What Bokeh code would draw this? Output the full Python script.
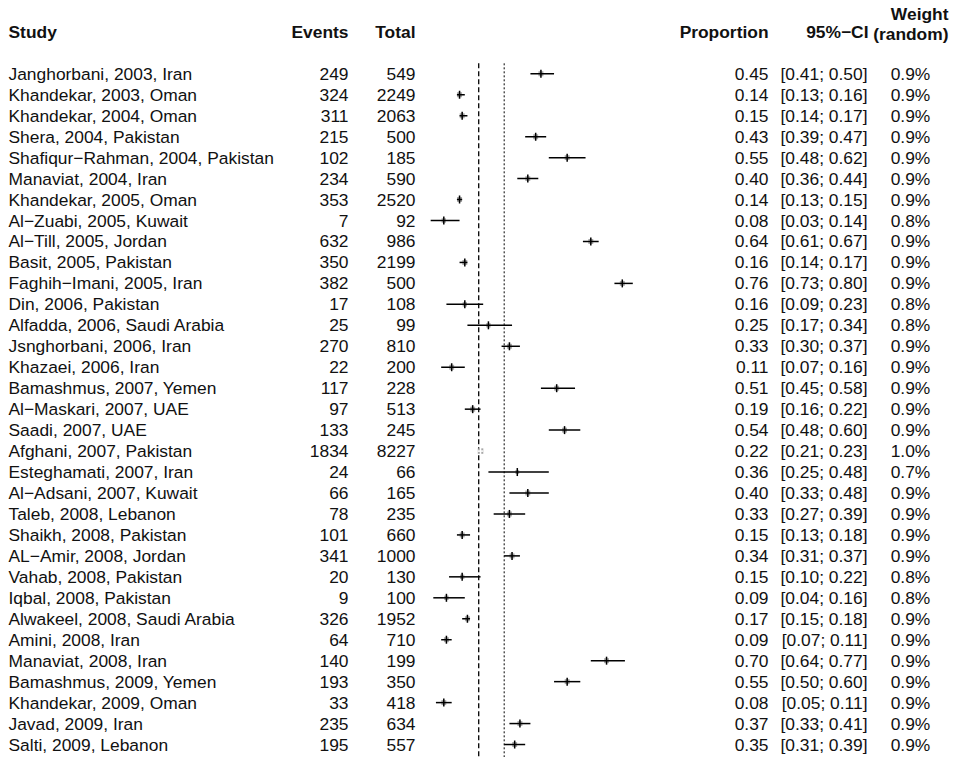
from bokeh.plotting import figure
from bokeh.models import Range1d, ColumnDataSource
from bokeh.embed import file_html
from bokeh.resources import INLINE
from bokeh.core.properties import value

studies = [
    "Janghorbani, 2003, Iran", "Khandekar, 2003, Oman", "Khandekar, 2004, Oman",
    "Shera, 2004, Pakistan", "Shafiqur\u2212Rahman, 2004, Pakistan", "Manaviat, 2004, Iran",
    "Khandekar, 2005, Oman", "Al\u2212Zuabi, 2005, Kuwait", "Al\u2212Till, 2005, Jordan",
    "Basit, 2005, Pakistan", "Faghih\u2212Imani, 2005, Iran", "Din, 2006, Pakistan",
    "Alfadda, 2006, Saudi Arabia", "Jsnghorbani, 2006, Iran", "Khazaei, 2006, Iran",
    "Bamashmus, 2007, Yemen", "Al\u2212Maskari, 2007, UAE", "Saadi, 2007, UAE",
    "Afghani, 2007, Pakistan", "Esteghamati, 2007, Iran", "Al\u2212Adsani, 2007, Kuwait",
    "Taleb, 2008, Lebanon", "Shaikh, 2008, Pakistan", "AL\u2212Amir, 2008, Jordan",
    "Vahab, 2008, Pakistan", "Iqbal, 2008, Pakistan", "Alwakeel, 2008, Saudi Arabia",
    "Amini, 2008, Iran", "Manaviat, 2008, Iran", "Bamashmus, 2009, Yemen",
    "Khandekar, 2009, Oman", "Javad, 2009, Iran", "Salti, 2009, Lebanon",
]
events = [249, 324, 311, 215, 102, 234, 353, 7, 632, 350, 382, 17, 25, 270, 22, 117, 97,
          133, 1834, 24, 66, 78, 101, 341, 20, 9, 326, 64, 140, 193, 33, 235, 195]
totals = [549, 2249, 2063, 500, 185, 590, 2520, 92, 986, 2199, 500, 108, 99, 810, 200, 228,
          513, 245, 8227, 66, 165, 235, 660, 1000, 130, 100, 1952, 710, 199, 350, 418, 634, 557]
proportion = [0.45, 0.14, 0.15, 0.43, 0.55, 0.40, 0.14, 0.08, 0.64, 0.16, 0.76, 0.16, 0.25,
              0.33, 0.11, 0.51, 0.19, 0.54, 0.22, 0.36, 0.40, 0.33, 0.15, 0.34, 0.15, 0.09,
              0.17, 0.09, 0.70, 0.55, 0.08, 0.37, 0.35]
ci_lower = [0.41, 0.13, 0.14, 0.39, 0.48, 0.36, 0.13, 0.03, 0.61, 0.14, 0.73, 0.09, 0.17,
            0.30, 0.07, 0.45, 0.16, 0.48, 0.21, 0.25, 0.33, 0.27, 0.13, 0.31, 0.10, 0.04,
            0.15, 0.07, 0.64, 0.50, 0.05, 0.33, 0.31]
ci_upper = [0.50, 0.16, 0.17, 0.47, 0.62, 0.44, 0.15, 0.14, 0.67, 0.17, 0.80, 0.23, 0.34,
            0.37, 0.16, 0.58, 0.22, 0.60, 0.23, 0.48, 0.48, 0.39, 0.18, 0.37, 0.22, 0.16,
            0.18, 0.11, 0.77, 0.60, 0.11, 0.41, 0.39]
weight_random = [0.9, 0.9, 0.9, 0.9, 0.9, 0.9, 0.9, 0.8, 0.9, 0.9, 0.9, 0.8, 0.8, 0.9, 0.9,
                 0.9, 0.9, 0.9, 1.0, 0.7, 0.9, 0.9, 0.9, 0.9, 0.8, 0.8, 0.9, 0.9, 0.9, 0.9,
                 0.9, 0.9, 0.9]
fixed_estimate = 0.213
random_estimate = 0.31

headers = ["Study", "Events", "Total", "Proportion", "95%\u2212CI"]

# ---- layout (pixels) ----
W, H = 959, 757
ROW_PX = 20.96
FIRST_ROW_PX = 73.3
PX_PER_UNIT = 262.5
ZERO_PX = 422.3
FONT = value("Liberation Sans")
FS = "17.4px"

x_start = -ZERO_PX / PX_PER_UNIT
x_end = (W - ZERO_PX) / PX_PER_UNIT
y_top = 1 - FIRST_ROW_PX / ROW_PX
y_bottom = 1 + (H - FIRST_ROW_PX) / ROW_PX

p = figure(width=W, height=H, x_range=Range1d(x_start, x_end),
           y_range=Range1d(y_bottom, y_top), output_backend="svg",
           toolbar_location=None, min_border=0, x_axis_location=None,
           y_axis_location=None, background_fill_color="white",
           border_fill_color="white")
p.grid.visible = False
p.outline_line_color = None
p.extra_x_ranges = {"px": Range1d(0, W)}

n = len(studies)
rows = list(range(1, n + 1))
sq_px = [w * 5.5 for w in weight_random]
inside = [(hi - lo) * PX_PER_UNIT < s for lo, hi, s in zip(ci_lower, ci_upper, sq_px)]
src = ColumnDataSource(dict(
    y=rows, study=studies,
    ev=[str(e) for e in events], tot=[str(t) for t in totals],
    prop=proportion, lo=ci_lower, hi=ci_upper, sq=sq_px,
    prop_s=[f"{v:.2f}" for v in proportion],
    ci_s=[f"[{a:.2f}; {b:.2f}]" for a, b in zip(ci_lower, ci_upper)],
    w_s=[f"{w:.1f}%" for w in weight_random],
    lc=["white" if f else "black" for f in inside],
))

# reference lines
p.segment(x0=[fixed_estimate], x1=[fixed_estimate], y0=[0.5], y1=[y_bottom + 1],
          line_color="black", line_width=1.3, line_dash="5 3")
p.segment(x0=[random_estimate], x1=[random_estimate], y0=[0.5], y1=[y_bottom + 1],
          line_color="black", line_width=1.0, line_dash="2 2")

# study markers
p.scatter(x="prop", y="y", size="sq", marker="square", source=src,
          fill_color="#a8a8a8", line_color=None)
p.segment(x0="lo", x1="hi", y0="y", y1="y", source=src, line_color="lc", line_width=1.5)
p.scatter(x="prop", y="y", marker="dash", angle=1.5708, size=8, source=src,
          line_color="lc", line_width=1.5)

# text columns
common = dict(source=src, x_range_name="px", text_font=FONT, text_font_size=FS,
              text_baseline="middle", text_color="#111111")
p.text(x=8, y="y", text="study", text_align="left", **common)
p.text(x=348, y="y", text="ev", text_align="right", **common)
p.text(x=415, y="y", text="tot", text_align="right", **common)
p.text(x=768, y="y", text="prop_s", text_align="right", **common)
p.text(x=867, y="y", text="ci_s", text_align="right", **common)
p.text(x=910, y="y", text="w_s", text_align="center", **common)

hsrc = ColumnDataSource(dict(
    x=[8, 348, 415, 768, 868], y=[-1] * 5, t=headers,
    a=["left", "right", "right", "right", "right"]))
p.text(x="x", y="y", text="t", text_align="a", source=hsrc, x_range_name="px",
       text_font=FONT, text_font_size=FS, text_font_style="bold",
       text_baseline="middle", text_color="#111111")
p.text(x=[948, 948], y=[-1.85, -0.9], text=["Weight", "(random)"], x_range_name="px",
       text_font=FONT, text_font_size=FS, text_font_style="bold", text_align="right",
       text_baseline="middle", text_color="#111111")

open("out.html", "w").write(file_html(p, INLINE))
